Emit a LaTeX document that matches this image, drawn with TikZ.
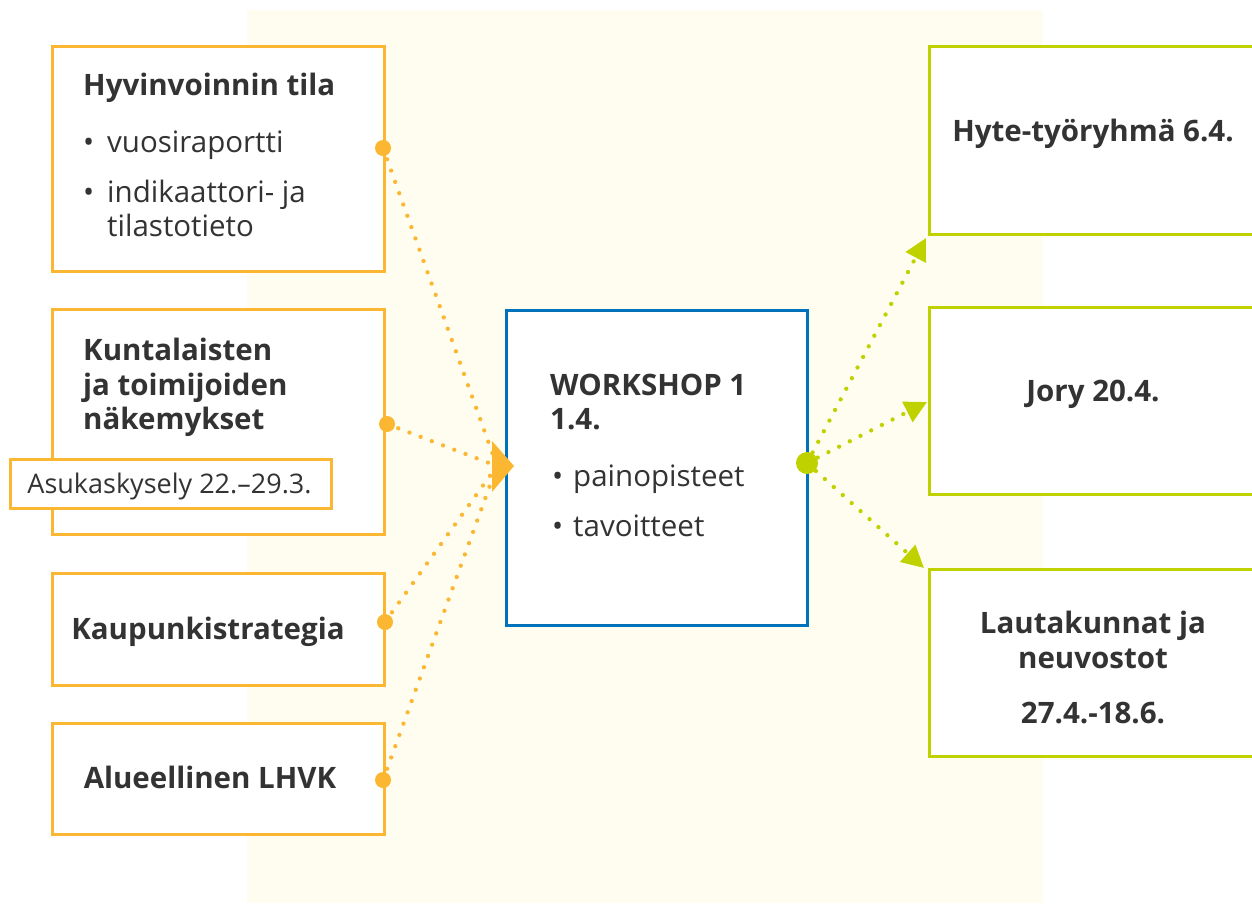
\documentclass[tikz,border=0pt]{standalone}
\usepackage{fontspec}
\setmainfont{Open Sans}
\usetikzlibrary{arrows.meta}
\definecolor{orng}{HTML}{FBB731}
\definecolor{grn}{HTML}{BFD200}
\definecolor{blu}{HTML}{0072BC}
\definecolor{bgy}{HTML}{FFFDEF}
\definecolor{txt}{HTML}{333333}
\begin{document}
\begin{tikzpicture}[x=1pt,y=-1pt,
  every node/.style={text=txt, font=\fontsize{29.5}{34}\selectfont},
  bx/.style={fill=white, line width=3pt, inner sep=0pt, anchor=north west},
  obox/.style={bx, draw=orng},
  gbox/.style={bx, draw=grn},
  cbox/.style={bx, draw=blu, line width=2.5pt},
  lbl/.style={anchor=base west, inner sep=0pt},
  blbl/.style={lbl, font=\fontsize{29.5}{34}\selectfont\bfseries},
  clbl/.style={anchor=base, inner sep=0pt, font=\fontsize{29.5}{34}\selectfont\bfseries},
  odots/.style={draw=orng, line width=4.3pt, line cap=round, dash pattern=on 0pt off 12pt},
  gdots/.style={draw=grn, line width=4.3pt, line cap=round, dash pattern=on 0pt off 12pt,
     -{Triangle[length=22pt,width=22pt]}, shorten >=0pt}
]
\useasboundingbox (0,0) rectangle (1252,903);
\clip (0,0) rectangle (1252,903);
\fill[bgy] (247,10) rectangle (1043,903);

% left boxes
\node[obox, minimum width=332pt, minimum height=225pt] (b1) at (51,45) {};
\node[obox, minimum width=332pt, minimum height=225pt] (b2) at (51,308) {};
\node[obox, minimum width=332pt, minimum height=112pt] (b3) at (51,572) {};
\node[obox, minimum width=332pt, minimum height=111pt] (b4) at (51,722) {};
\node[obox, line width=2.5pt, minimum width=321pt, minimum height=49pt] (ask) at (9,458) {};

% center box
\node[cbox, minimum width=301pt, minimum height=315pt] (c) at (505,309) {};

% right boxes
\node[gbox, minimum width=340pt, minimum height=188pt] (r1) at (928,45) {};
\node[gbox, minimum width=340pt, minimum height=187pt] (r2) at (928,306) {};
\node[gbox, minimum width=340pt, minimum height=187pt] (r3) at (928,568) {};

% texts left
\node[blbl] (t1) at (83,95) {Hyvinvoinnin tila};
\node[lbl] (t1a) at (83,152) {•};
\node[lbl] (t1b) at (107,152) {vuosiraportti};
\node[lbl] (t1c) at (83,202) {•};
\node[lbl] (t1d) at (107,202) {indikaattori- ja};
\node[lbl] (t1e) at (107,236) {tilastotieto};

\node[blbl] (t2a) at (83,360) {Kuntalaisten};
\node[blbl] (t2b) at (83,395) {ja toimijoiden};
\node[blbl] (t2c) at (83,429) {näkemykset};
\node[anchor=base, inner sep=0pt, font=\fontsize{27}{30}\selectfont] (t2d) at (169.5,493) {Asukaskysely 22.–29.3.};

\node[clbl] (t3) at (208,639) {Kaupunkistrategia};
\node[clbl] (t4) at (210,788) {Alueellinen LHVK};

% center texts
\node[blbl] (c1) at (550,395) {WORKSHOP 1};
\node[blbl] (c2) at (550,429) {1.4.};
\node[lbl] (c3) at (552,486) {•};
\node[lbl] (c4) at (573,486) {painopisteet};
\node[lbl] (c5) at (552,536) {•};
\node[lbl] (c6) at (573,536) {tavoitteet};

% right texts
\node[clbl] (r1t) at (1093,141) {Hyte-työryhmä 6.4.};
\node[clbl] (r2t) at (1093,401) {Jory 20.4.};
\node[clbl] (r3a) at (1093,633) {Lautakunnat ja};
\node[clbl] (r3b) at (1093,668) {neuvostot};
\node[clbl] (r3c) at (1093,723) {27.4.-18.6.};

% connectors
\coordinate (o1) at (383,148);
\coordinate (o2) at (387,424);
\coordinate (o3) at (385,622);
\coordinate (o4) at (383,780);
\coordinate (oin) at (497,466);
\draw[odots] (o1) -- (oin);
\draw[odots] (o2) -- (oin);
\draw[odots] (o3) -- (oin);
\draw[odots] (o4) -- (oin);
\fill[orng] (o1) circle (8);
\fill[orng] (o2) circle (8);
\fill[orng] (o3) circle (8);
\fill[orng] (o4) circle (8);
\fill[orng] (492,441) -- (514,466) -- (492,492) -- cycle;

\coordinate (g0) at (807,463);
\coordinate (g1) at (926,238);
\coordinate (g2) at (927,402);
\coordinate (g3) at (924,568);
\draw[gdots] (g0) -- (g1);
\draw[gdots] (g0) -- (g2);
\draw[gdots] (g0) -- (g3);
\fill[grn] (g0) circle (11);
\end{tikzpicture}
\end{document}
